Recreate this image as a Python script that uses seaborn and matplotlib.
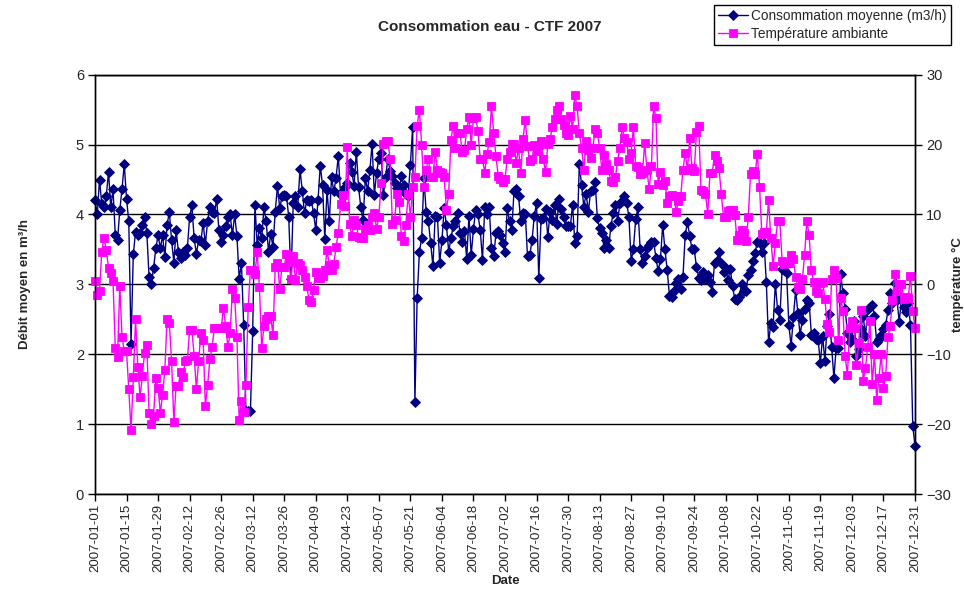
import numpy as np
import pandas as pd
import matplotlib
matplotlib.use("Agg")
import matplotlib.pyplot as plt
import matplotlib.dates as mdates
import seaborn as sns

# ---- data (one value per day, 2007-01-01 .. 2007-12-31) ----
start_date = "2007-01-01"
end_date = "2007-12-31"

conso_jan_feb = [
    4.2, 4.0, 4.5, 4.15, 4.1, 4.26, 4.61, 4.1, 4.36, 3.71,
    3.63, 4.06, 4.37, 4.72, 4.22, 3.9, 2.15, 3.43, 3.75, 3.7,
    3.73, 3.85, 3.97, 3.74, 3.11, 3.01, 3.23, 3.52, 3.7, 3.52,
    3.7, 3.39, 3.85, 4.04, 3.63, 3.31, 3.78, 3.47, 3.37, 3.47,
    3.42, 3.52, 3.96, 4.13, 3.66, 3.44, 3.63, 3.62, 3.88, 3.57,
]
conso_feb_apr = [
    3.91, 4.1, 4.04, 4.02, 4.22, 3.78, 3.6, 3.71, 3.84, 3.97,
    4.0, 3.7, 4.0, 3.69, 3.08, 3.3, 2.42, 1.19, 1.19, 1.19,
    2.33, 4.14, 3.57, 3.8, 3.66, 4.1, 3.9, 3.47, 3.72, 3.54,
    4.04, 4.41, 4.09, 4.26, 4.28, 4.27, 3.96, 3.08, 4.16, 4.26,
    4.11, 4.65, 4.33, 4.02, 4.2,
]
conso_apr_may = [
    4.19, 4.21, 4.02, 3.78, 4.21, 4.7, 4.42, 3.65, 4.35, 3.9,
    4.53, 4.33, 4.52, 4.84, 4.28, 4.33, 4.4, 4.45, 4.74, 4.61,
    4.41, 4.9, 4.39, 4.1, 3.92, 4.52, 4.34, 4.63, 5.01, 4.28,
    4.6, 4.8, 4.88, 4.28, 4.53, 4.8, 4.62, 4.55, 4.45, 4.38,
    4.34, 4.55, 4.42, 4.3, 4.27, 4.71,
]
conso_may_jul = [
    5.25, 1.31, 2.8, 3.46, 3.66, 4.52, 4.04, 3.9, 3.59, 3.26,
    3.98, 3.97, 3.31, 3.63, 4.09, 3.85, 3.47, 3.66, 3.83, 3.9,
    4.02, 3.74, 3.6, 3.77, 3.36, 3.98, 3.42, 3.79, 4.07, 4.0,
    3.78, 3.35, 4.1, 4.0, 4.1, 3.52, 3.41, 3.73, 3.77, 3.71,
    3.59, 3.46,
]
conso_jul_aug = [
    4.09, 3.9, 3.78, 4.33, 4.36, 4.27, 3.9, 4.02, 4.01, 3.4,
    3.42, 3.63, 3.98, 4.16, 3.09, 3.93, 3.95, 4.08, 3.68, 4.03,
    3.92, 4.14, 3.87, 4.22, 4.08, 3.97, 3.83, 3.84, 3.83, 4.14,
    3.59, 3.69, 4.72, 4.42, 4.11, 4.3, 4.04, 4.33, 4.35, 4.47,
    3.95, 3.8, 3.73, 3.52, 3.64, 3.52, 3.83, 4.02, 4.14,
]
conso_aug_oct = [
    3.9, 4.16, 4.19, 4.26, 4.16, 3.97, 3.34, 3.5, 3.93, 4.1,
    3.5, 3.31, 3.4, 3.52, 3.57, 3.6, 3.61, 3.38, 3.19, 3.36,
    3.85, 3.5, 3.2, 2.84, 2.82, 2.91, 3.02, 3.07, 2.94, 3.11,
    3.71, 3.89, 3.69, 3.5, 3.5, 3.25, 3.09, 3.06, 3.17, 3.07,
    3.13, 3.04, 2.89, 3.31,
]
conso_oct_nov = [
    3.33, 3.47, 3.31, 3.17, 3.23, 3.06, 3.22, 2.97, 2.79, 2.77,
    2.82, 3.01, 2.91, 2.9, 3.14, 3.21, 3.34, 3.45, 3.61, 3.59,
    3.46, 3.59, 3.03, 2.17, 2.44, 2.39, 3.01, 2.64, 2.49, 3.22,
    3.21, 3.16, 2.42, 2.12, 2.53, 2.92, 2.59, 2.28, 2.49, 2.65,
    2.78, 2.74, 2.28, 2.31, 2.22,
]
conso_nov_dec = [
    2.2, 1.88, 2.26, 1.9, 2.4, 2.57, 2.1, 1.66, 2.09, 2.09,
    3.15, 2.87, 2.65, 2.3, 2.17, 2.22, 2.47, 1.97, 2.08, 2.36,
    2.55, 2.26, 2.65, 2.68, 2.71, 2.55, 2.17, 2.22, 2.28, 2.36,
    2.42, 2.63, 2.88, 2.73, 3.02, 2.78, 2.46, 2.8, 2.68, 2.6,
    2.73, 2.42, 0.98, 0.69,
]

temp_jan_feb = [
    0.5, -1.5, -1.0, 4.7, 6.6, 4.9, 2.4, 1.6, 0.5, -9.1,
    -10.4, -0.2, -7.5, -9.6, -9.6, -15.0, -20.9, -13.3, -5.0, -11.8,
    -16.1, -13.1, -9.8, -8.7, -18.4, -20.0, -18.8, -13.4, -14.8, -18.4,
    -15.8, -12.2, -4.9, -5.6, -11.0, -19.7, -14.5, -14.5, -12.6, -13.3,
    -11.0, -10.8, -6.5, -6.5, -10.2, -15.0, -11.0, -6.9, -7.9, -17.4,
]
temp_feb_apr = [
    -14.4, -10.7, -8.9, -6.3, -6.3, -6.3, -6.3, -3.4, -6.0, -8.9,
    -7.0, -0.6, -1.9, -7.6, -19.4, -16.7, -18.3, -14.4, -3.2, 2.1,
    2.1, 1.5, 4.6, -0.4, -9.1, -6.0, -5.0, -4.6, -4.5, -7.3,
    2.5, 3.1, -0.6, 2.5, 2.5, 4.4, 3.2, 0.7, 4.0, 0.6,
    3.0, 2.8, 2.0, 1.1, -0.3,
]
temp_apr_may = [
    -2.2, -2.5, -0.8, 1.7, 0.9, 0.9, 1.2, 2.0, 4.9, 2.8,
    2.0, 2.9, 5.4, 7.3, 11.5, 12.8, 11.2, 19.6, 8.7, 6.9,
    9.2, 8.5, 6.8, 6.6, 6.6, 7.9, 8.5, 7.8, 9.7, 10.2,
    7.9, 9.7, 14.5, 20.1, 20.5, 20.5, 18.0, 8.7, 9.2, 12.9,
    11.8, 6.9, 6.2, 8.5, 12.9, 9.7,
]
temp_may_jul = [
    14.0, 15.4, 22.7, 25.0, 19.9, 14.0, 16.4, 18.0, 15.3, 15.3,
    19.0, 16.3, 16.1, 16.0, 15.3, 10.6, 12.9, 20.7, 22.7, 19.5,
    21.6, 21.7, 19.0, 19.2, 22.2, 23.9, 20.0, 23.8, 23.9, 21.9,
    18.0, 17.9, 16.0, 18.6, 20.4, 25.5, 21.6, 18.3, 15.5, 15.1,
    14.7, 15.1, 17.9, 19.0, 20.1,
]
temp_jul_aug = [
    20.1, 17.4, 19.5, 15.9, 20.8, 23.5, 19.8, 17.7, 17.9, 19.9,
    19.1, 19.9, 20.5, 17.9, 16.1, 20.1, 20.8, 22.5, 23.6, 25.0,
    25.5, 23.6, 22.8, 21.7, 21.4, 24.1, 22.3, 27.1, 25.5, 21.7,
    19.5, 16.4, 20.5, 19.2, 18.1, 19.5, 22.2, 21.7, 19.5, 16.4,
    18.5, 17.2, 16.3, 14.8, 14.7, 15.3,
]
temp_aug_oct = [
    17.7, 19.5, 22.5, 20.9, 20.4, 17.9, 18.8, 22.5, 16.9, 16.8,
    15.8, 15.9, 20.2, 16.4, 13.6, 16.9, 25.5, 23.8, 14.3, 16.1,
    14.2, 14.8, 11.6, 12.6, 12.8, 12.6, 10.4, 11.9, 12.6, 16.4,
    18.8, 16.4, 20.9, 16.7, 16.2, 21.8, 22.6, 13.5, 13.4, 12.9,
    10.1, 16.0, 16.0, 18.5,
]
temp_oct_nov = [
    17.7, 16.6, 13.0, 9.7, 9.7, 10.5, 10.7, 10.6, 9.9, 6.4,
    7.0, 7.8, 7.3, 6.2, 9.7, 15.8, 16.2, 15.8, 18.6, 14.0,
    7.2, 7.5, 7.5, 12.1, 6.6, 2.6, 5.9, 9.0, 9.1, 3.4,
    2.9, 3.1, 3.1, 4.2, 3.6, 1.1, -0.4, -0.6, 0.7, 4.2,
    9.1, 7.0, 2.0, 0.4, -0.9,
]
temp_nov_dec = [
    -1.2, 0.2, 0.4, -2.1, -5.7, -6.8, 0.7, 2.0, 0.9, -7.9,
    -2.0, -3.8, -10.3, -13.0, -6.3, -5.3, -6.3, -11.5, -8.4, -3.6,
    -13.8, -12.0, -9.0, -5.2, -14.2, -10.0, -16.5, -13.4, -10.0, -14.8,
    -13.1, -7.5, -6.0, -2.3, 1.5, -0.9, 0.0, 0.1, -2.1, -1.8,
    -1.9, 1.2, -3.8, -6.3,
]

conso = (conso_jan_feb + conso_feb_apr + conso_apr_may + conso_may_jul
         + conso_jul_aug + conso_aug_oct + conso_oct_nov + conso_nov_dec)
temp = (temp_jan_feb + temp_feb_apr + temp_apr_may + temp_may_jul
        + temp_jul_aug + temp_aug_oct + temp_oct_nov + temp_nov_dec)

dates = pd.date_range(start_date, end_date, freq="D")
n = min(len(dates), len(conso), len(temp))
df = pd.DataFrame({"Date": dates[:n], "conso": conso[:n], "temp": temp[:n]})

title = "Consommation eau - CTF 2007"
label_conso = "Consommation moyenne (m3/h)"
label_temp = "Température ambiante"

# ---- style ----
sns.set_theme(style="white")
plt.rcParams["font.family"] = ["Liberation Sans", "DejaVu Sans"]

W, H = 964, 592
fig = plt.figure(figsize=(W / 100, H / 100), dpi=100)
L, R, T, B = 95, 915, 74.7, 494
ax = fig.add_axes([L / W, 1 - B / H, (R - L) / W, (B - T) / H])

navy = "#000080"
pink = "#FF00FF"

sns.lineplot(data=df, x="Date", y="conso", ax=ax, color=navy, marker="D",
             markersize=4.6, markeredgecolor=navy, markeredgewidth=0.6,
             linewidth=1.0, label=label_conso, legend=False)
ax2 = ax.twinx()
sns.lineplot(data=df, x="Date", y="temp", ax=ax2, color=pink, marker="s",
             markersize=5.2, markeredgecolor=pink, markeredgewidth=0.6,
             linewidth=1.0, label=label_temp, legend=False)
for a in (ax, ax2):
    for ln in a.get_lines():
        ln.set_clip_on(False)

ax.set_xlim(dates[0], dates[-1])
ax.set_ylim(0, 6)
ax2.set_ylim(-30, 30)
ax.set_yticks(np.arange(0, 7, 1))
ax2.set_yticks(np.arange(-30, 31, 10))
ax.set_xticks(dates[::14])
ax.xaxis.set_major_formatter(mdates.DateFormatter("%Y-%m-%d"))

ax.yaxis.grid(True, color="black", linewidth=1.0)
ax.xaxis.grid(False)
ax2.grid(False)
ax.set_axisbelow(True)

for a in (ax, ax2):
    for s in a.spines.values():
        s.set_color("black")
        s.set_linewidth(1.0)
ax.tick_params(axis="x", direction="out", length=5, width=1, color="black",
               labelsize=9.5, rotation=90, pad=2, bottom=True)
ax.tick_params(axis="y", direction="out", length=5, width=1, color="black",
               labelsize=10.5, pad=3, left=True)
ax2.tick_params(axis="y", direction="out", length=5, width=1, color="black",
                labelsize=10.5, pad=3, right=True)

ax.set_xlabel("Date", fontsize=9.5, fontweight="bold", labelpad=2)
ax.set_ylabel("Débit moyen en m³/h", fontsize=9.5, fontweight="bold", labelpad=32)
ax2.set_ylabel("température °C", fontsize=9.5, fontweight="bold")
ax2.yaxis.set_label_coords((952 - L) / (R - L), 0.5)

fig.text(490 / W, 1 - 27 / H, title, ha="center", va="center",
         fontsize=11, fontweight="bold")

h1, l1 = ax.get_legend_handles_labels()
h2, l2 = ax2.get_legend_handles_labels()
leg = fig.legend(h1 + h2, l1 + l2, loc="upper left",
                 bbox_to_anchor=(714 / W, 1 - 5 / H), frameon=True,
                 fancybox=False, edgecolor="black", framealpha=1,
                 fontsize=9.8, handlelength=2.2, handletextpad=0.25,
                 borderpad=0.3, labelspacing=0.3, borderaxespad=0)
leg.get_frame().set_linewidth(1.0)

fig.savefig("out.png", dpi=100, facecolor="white")
